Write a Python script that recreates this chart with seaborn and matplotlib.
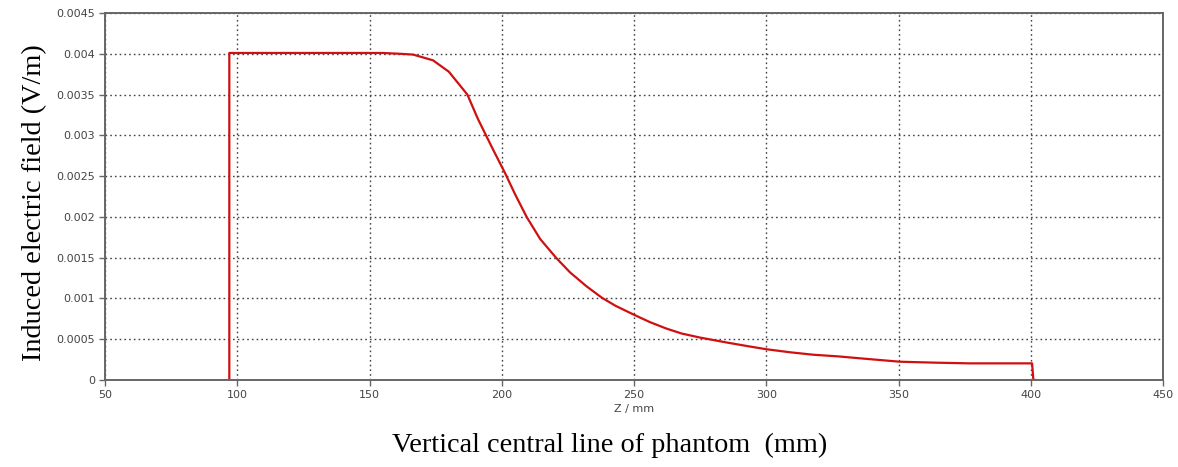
import matplotlib
matplotlib.use("Agg")
import matplotlib.pyplot as plt
import seaborn as sns
import pandas as pd

# Data
z_mm = [97, 97, 110, 130, 150, 155, 161.5, 166.5, 174, 180, 187, 191, 196.8,
        201.2, 205, 209.4, 214.5, 220.5, 225.8, 232, 237.8, 243, 250, 256,
        262.3, 268, 275, 285, 293.9, 300.3, 309, 317.7, 327, 335.4, 343,
        350.6, 364.6, 377, 400.5, 401, 402]
e_field = [0, 0.00401, 0.00401, 0.00401, 0.00401, 0.00401, 0.004, 0.00399,
           0.00392, 0.00378, 0.0035, 0.0032, 0.00282, 0.00254, 0.00228,
           0.0020, 0.00173, 0.0015, 0.00132, 0.00115, 0.00101, 0.00091, 0.0008,
           0.00071, 0.00063, 0.00057, 0.00052, 0.00046, 0.00041, 0.000376,
           0.00034, 0.00031, 0.00029, 0.000266, 0.000245, 0.000224, 0.000212,
           0.000204, 0.000204, 0, 0]
x_ticks = [50, 100, 150, 200, 250, 300, 350, 400, 450]
y_ticks = [0, 0.0005, 0.001, 0.0015, 0.002, 0.0025, 0.003, 0.0035, 0.004, 0.0045]
y_tick_labels = ["0", "0.0005", "0.001", "0.0015", "0.002", "0.0025", "0.003",
                 "0.0035", "0.004", "0.0045"]

sns.set_theme(style="white")
plt.rcParams['font.family'] = ['DejaVu Sans']

df = pd.DataFrame({"z": z_mm, "E": e_field})

fig = plt.figure(figsize=(11.78, 4.67), dpi=100)
ax = fig.add_axes([105/1178, (467-380)/467, (1163-105)/1178, (380-13)/467])

sns.lineplot(data=df, x="z", y="E", ax=ax, color="#d01010", linewidth=1.6,
             estimator=None, sort=False)

ax.set_xlim(50, 450)
ax.set_ylim(0, 0.0045)
ax.set_xticks(x_ticks)
ax.set_xticklabels([str(t) for t in x_ticks])
ax.set_yticks(y_ticks)
ax.set_yticklabels(y_tick_labels)
ax.grid(True, linestyle=(0, (1.2, 2.2)), color="#444444", linewidth=1.0)
ax.set_axisbelow(True)

for s in ax.spines.values():
    s.set_color("#666666")
    s.set_linewidth(1.4)
ax.tick_params(axis="both", which="major", direction="out", length=4,
               width=1.0, color="#666666", labelsize=8, labelcolor="#444444",
               left=True, bottom=True, pad=3)

ax.set_xlabel("Z / mm", fontsize=8, color="#444444", labelpad=3)
ax.set_ylabel("")

fig.text(610/1178, 1 - 445/467, "Vertical central line of phantom  (mm)",
         family="Liberation Serif", fontsize=20.3, color="black",
         ha="center", va="center")
fig.text(35/1178, 1 - 203/467, "Induced electric field (V/m)",
         family="Liberation Serif", fontsize=20.3, color="black",
         ha="center", va="center", rotation=90)

fig.savefig("out.png", dpi=100, facecolor="white")
